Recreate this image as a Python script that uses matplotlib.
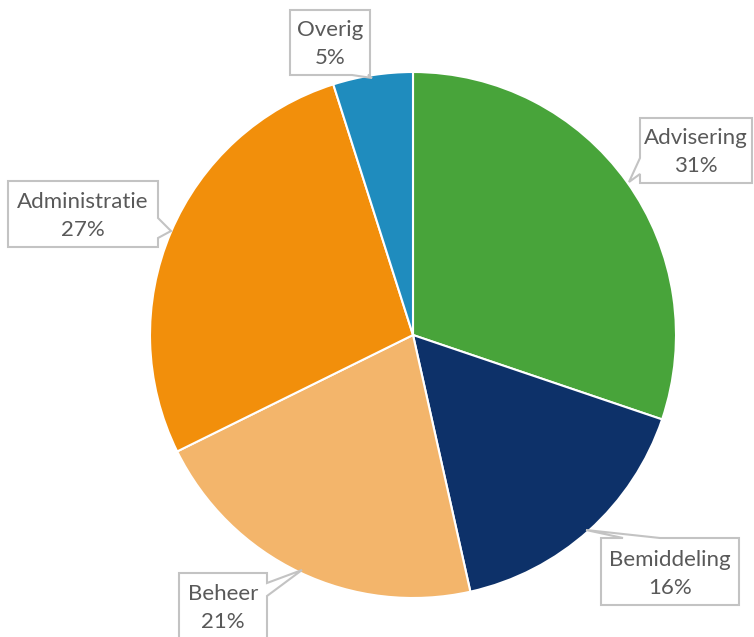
import matplotlib.pyplot as plt
from matplotlib.patches import Polygon

categorieen = ['Advisering', 'Bemiddeling', 'Beheer', 'Administratie', 'Overig']
aandelen = [30.2, 16.3, 21.2, 27.4, 4.9]
label_pct = ['31%', '16%', '21%', '27%', '5%']
kleuren = ['#48a43a', '#0d3169', '#f3b56b', '#f28f0b', '#1f8cbe']

W, H = 754, 637

# callout kaders in pixels (x0, y0, x1, y1, y van boven), zijde van de punt, basis op die zijde, punt
callouts = {
    'Advisering': ((640, 118, 752, 183), 'left', (158, 174), (629, 182)),
    'Bemiddeling': ((601, 538, 739, 605), 'top', (623, 660), (586, 530)),
    'Beheer': ((179, 573, 267, 660), 'right', (583, 596), (302, 570)),
    'Administratie': ((8, 181, 158, 247), 'right', (218, 238), (171, 231)),
    'Overig': ((290, 10, 370, 75), 'bottom', (352, 368), (372, 78)),
}


def callout_punten(box, zijde, basis, punt):
    x0, y0, x1, y1 = box
    a, b = basis
    if zijde == 'left':
        pts = [(x0, y0), (x1, y0), (x1, y1), (x0, y1), (x0, b), punt, (x0, a)]
    elif zijde == 'right':
        pts = [(x0, y0), (x1, y0), (x1, a), punt, (x1, b), (x1, y1), (x0, y1)]
    elif zijde == 'top':
        pts = [(x0, y0), (a, y0), punt, (b, y0), (x1, y0), (x1, y1), (x0, y1)]
    else:
        pts = [(x0, y0), (x1, y0), (x1, y1), (b, y1), punt, (a, y1), (x0, y1)]
    return [(x, H - y) for x, y in pts]


fig = plt.figure(figsize=(W / 100, H / 100), dpi=100)
ax = fig.add_axes([0, 0, 1, 1])

ax.pie(aandelen, colors=kleuren, startangle=90, counterclock=False,
       center=(413, H - 335), radius=263,
       wedgeprops=dict(edgecolor='white', linewidth=1.5))
ax.set_xlim(0, W)
ax.set_ylim(0, H)
ax.set_aspect('equal')
ax.axis('off')

for cat, pct in zip(categorieen, label_pct):
    box, zijde, basis, punt = callouts[cat]
    ax.add_patch(Polygon(callout_punten(box, zijde, basis, punt), closed=True,
                         fc='white', ec='#c3c3c3', lw=1.5, joinstyle='miter', zorder=5))
    tx = (box[0] + box[2]) / 2
    ty = (box[1] + box[3]) / 2 + 2 if cat != 'Beheer' else 608
    ax.text(tx, H - ty, f'{cat}\n{pct}', ha='center', va='center', fontsize=16,
            color='#595959', linespacing=1.5, family='Lato', zorder=6)

fig.savefig('out.png', dpi=100)
